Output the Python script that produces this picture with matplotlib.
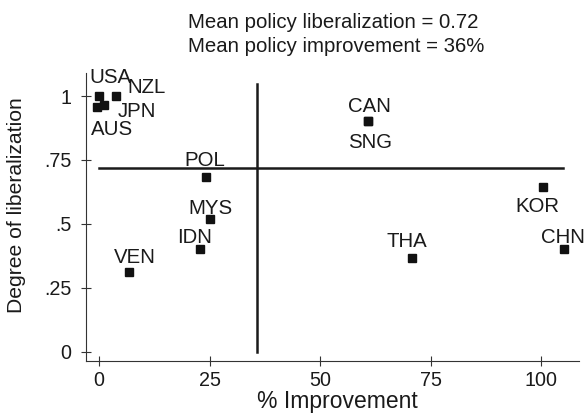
import matplotlib
matplotlib.use('Agg')
import matplotlib.pyplot as plt

plt.rcParams['font.family'] = ['Liberation Sans', 'DejaVu Sans']

# countries: % improvement vs degree of liberalization
countries = ['USA', 'NZL', 'JPN', 'AUS', 'POL', 'MYS', 'IDN', 'VEN',
             'THA', 'CHN', 'KOR', 'CAN', 'SNG']
improvement = [0, 3.8, 1.2, -0.5, 24.3, 25.1, 22.9, 6.8,
               70.8, 105.1, 100.4, 60.9, 60.9]
liberalization = [1.0, 1.0, 0.965, 0.956, 0.682, 0.519, 0.40, 0.313,
                  0.368, 0.40, 0.645, 0.903, 0.903]
# label offsets (pixels, center x / baseline y)
lab_dx = [11.7, 31, 32.2, 14.8, -1.5, 0, -5.8, 6.1, -5.3, -1.5, -5.3, 1, 1.7]
lab_dy = [13, 3, -12, -27.7, 11.3, 5, 6.6, 8.7, 11, 6.6, -25, 8.4, -27.6]

mean_lib = 0.717
mean_imp = 35.8

xticks = [0, 25, 50, 75, 100]
yticks = [0, 0.25, 0.5, 0.75, 1]
yticklabels = ['0', '.25', '.5', '.75', '1']

fig = plt.figure(figsize=(5.86, 4.15), dpi=100)
ax = fig.add_axes([86.3 / 586, 54 / 415, (579 - 86.3) / 586, (361 - 73) / 415])

ax.plot(improvement, liberalization, 's', color='#111111', markersize=5.8, linestyle='none')
for c, x, y, dx, dy in zip(countries, improvement, liberalization, lab_dx, lab_dy):
    ax.annotate(c, (x, y), xytext=(dx, dy), textcoords='offset pixels',
                ha='center', va='baseline', fontsize=14.7, color='#1a1a1a')

ax.plot([0, 104.8], [mean_lib, mean_lib], color='#1a1a1a', lw=1.8)
ax.plot([mean_imp, mean_imp], [0, 1.046], color='#1a1a1a', lw=1.8)

ax.set_xlim(-2.87, 108.5)
ax.set_ylim(-0.036, 1.09)
ax.set_xticks(xticks)
ax.set_yticks(yticks)
ax.set_yticklabels(yticklabels)
for s in ['top', 'right']:
    ax.spines[s].set_visible(False)
for s in ['left', 'bottom']:
    ax.spines[s].set_linewidth(0.8)
    ax.spines[s].set_color('#333333')
ax.tick_params(direction='inout', length=7, width=0.8, color='#333333',
               labelsize=14.2, labelcolor='#1a1a1a')
ax.tick_params(axis='x', pad=4)
ax.tick_params(axis='y', pad=7)

fig.text(16.5 / 586, 1 - 205.5 / 415, 'Degree of liberalization', rotation=90,
         ha='center', va='center', fontsize=15.2, color='#1a1a1a')
fig.text(337 / 586, 1 - 408 / 415, '% Improvement', ha='center', va='baseline',
         fontsize=16.5, color='#1a1a1a')
fig.text(188 / 586, 1 - 28 / 415, 'Mean policy liberalization = 0.72', ha='left',
         va='baseline', fontsize=14.7, color='#1a1a1a')
fig.text(188 / 586, 1 - 52 / 415, 'Mean policy improvement = 36%', ha='left',
         va='baseline', fontsize=14.7, color='#1a1a1a')

fig.savefig('out.png', dpi=100)
